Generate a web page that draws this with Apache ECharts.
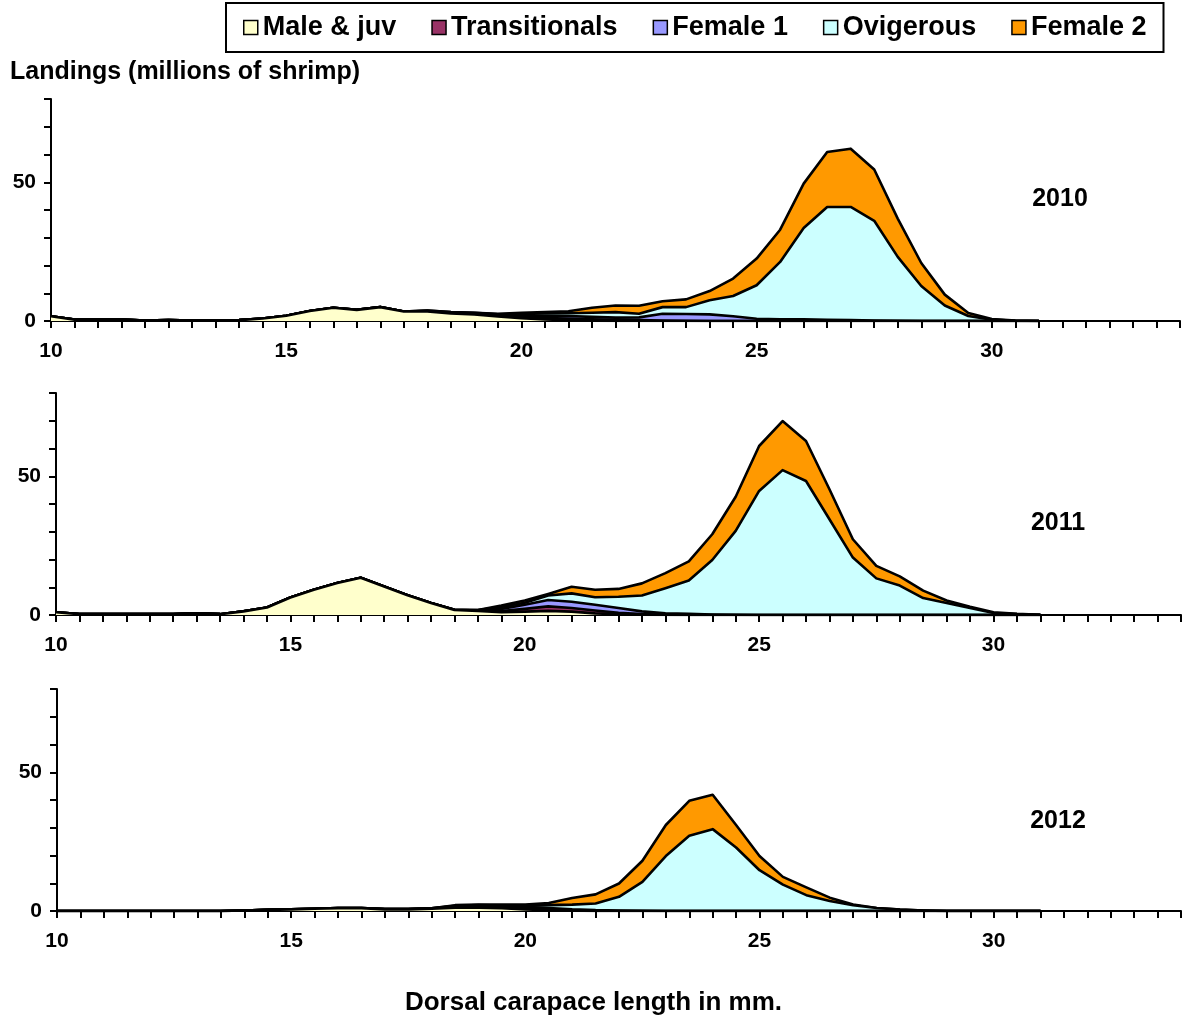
<!DOCTYPE html>
<html>
<head>
<meta charset="utf-8">
<title>Shrimp landings by carapace length</title>
<script src="https://cdn.jsdelivr.net/npm/echarts@6/dist/echarts.min.js"></script>
<style>
  html, body { margin: 0; padding: 0; background: #fff; }
  #chart { width: 1187px; height: 1021px; }
</style>
</head>
<body>
<div id="chart"></div>
<script>
// Dorsal carapace length classes (mm)
const lengths = [10, 10.5, 11, 11.5, 12, 12.5, 13, 13.5, 14, 14.5,
                 15, 15.5, 16, 16.5, 17, 17.5, 18, 18.5, 19, 19.5,
                 20, 20.5, 21, 21.5, 22, 22.5, 23, 23.5, 24, 24.5,
                 25, 25.5, 26, 26.5, 27, 27.5, 28, 28.5, 29, 29.5,
                 30, 30.5, 31];

const stages = ['Male & juv', 'Transitionals', 'Female 1', 'Ovigerous', 'Female 2'];
const stageColors = ['#FFFFCC', '#993366', '#9999FF', '#CCFFFF', '#FF9900'];
const years = ['2010', '2011', '2012'];

// Landings (millions of shrimp), 2010
const male2010 = [1.7,0.5,0.5,0.5,0.2,0.3,0.2,0.2,0.3,0.9, 1.9,3.6,4.8,4.0,5.0,3.4,3.4,2.7,2.4,1.6, 1.0,0.6,0.3,0.1,0,0,0,0,0,0, 0,0,0,0,0,0,0,0,0,0, 0,0,0];
const trans2010 = [0,0,0,0,0,0,0,0,0,0, 0,0,0,0,0,0,0.1,0.1,0.1,0.1, 0.3,0.5,0.6,0.5,0.4,0.3,0.2,0.1,0,0, 0,0,0,0,0,0,0,0,0,0, 0,0,0];
const fem1_2010 = [0,0,0,0,0,0,0,0,0,0, 0,0,0,0,0,0,0.1,0.2,0.2,0.3, 0.6,0.8,0.9,0.9,0.8,1.0,2.4,2.4,2.4,1.7, 0.8,0.6,0.6,0.4,0.3,0.2,0.1,0,0,0, 0,0,0];
const ovig2010 = [0,0,0,0,0,0,0,0,0,0, 0,0,0,0,0,0,0.2,0.2,0.3,0.4, 0.6,0.8,1.0,1.5,2.0,1.3,2.4,2.5,5.1,7.3, 12.1,20.7,32.9,40.7,40.8,35.9,23.0,12.6,5.6,1.8, 0.5,0.1,0];
const fem2_2010 = [0,0,0,0,0,0,0,0,0,0, 0,0,0,0,0,0,0,0,0,0.2, 0.5,0.5,0.7,1.8,2.4,2.9,2.1,2.8,3.3,6.3, 9.6,11.6,16.0,19.8,21.0,18.5,13.8,8.3,3.9,1.1, 0.2,0.1,0];

// Landings (millions of shrimp), 2011
const male2011 = [1.0,0.3,0.3,0.3,0.3,0.3,0.6,0.3,1.3,2.7, 6.3,9.1,11.5,13.4,10.3,7.1,4.3,1.8,1.5,1.0, 1.2,1.5,1.2,0.6,0.3,0.1,0,0,0,0, 0,0,0,0,0,0,0,0,0,0, 0,0,0];
const trans2011 = [0,0,0,0,0,0,0,0,0,0, 0,0,0,0,0,0,0,0.1,0.1,0.4, 1.0,1.6,1.3,1.0,0.5,0.2,0.1,0,0,0, 0,0,0,0,0,0,0,0,0,0, 0,0,0];
const fem1_2011 = [0,0,0,0,0,0,0,0,0,0, 0,0,0,0,0,0,0,0,0.1,0.8, 1.5,2.3,2.3,2.1,1.7,1.0,0.5,0.4,0.2,0.1, 0,0,0,0,0,0,0,0,0,0, 0,0,0];
const ovig2011 = [0,0,0,0,0,0,0,0,0,0, 0,0,0,0,0,0,0,0,0.1,0.7, 0.7,1.6,3.0,2.7,4.1,5.7,9.0,12.0,19.6,30.2, 44.7,52.2,48.3,34.5,20.7,13.2,10.6,6.1,4.3,2.5, 0.7,0.3,0.1];
const fem2_2011 = [0,0,0,0,0,0,0,0,0,0, 0,0,0,0,0,0,0,0,0,0.5, 0.8,0.6,2.4,2.7,2.8,4.4,5.5,6.9,9.3,12.3, 16.2,17.7,14.4,10.8,6.6,4.5,3.3,2.7,0.9,0.5, 0.3,0.1,0];

// Landings (millions of shrimp), 2012
const male2012 = [0,0,0,0,0,0,0,0,0.2,0.4, 0.6,0.8,1.0,1.0,0.6,0.6,0.8,1.2,1.2,1.0, 0.6,0.3,0.1,0,0,0,0,0,0,0, 0,0,0,0,0,0,0,0,0,0, 0,0,0];
const trans2012 = [0,0,0,0,0,0,0,0,0,0, 0,0,0.1,0.1,0.1,0.1,0.1,0.2,0.3,0.3, 0.3,0.2,0.1,0,0,0,0,0,0,0, 0,0,0,0,0,0,0,0,0,0, 0,0,0];
const fem1_2012 = [0,0,0,0,0,0,0,0,0,0, 0,0,0,0,0,0,0.1,0.3,0.4,0.4, 0.5,0.6,0.4,0.3,0.2,0.1,0,0,0,0, 0,0,0,0,0,0,0,0,0,0, 0,0,0];
const ovig2012 = [0,0,0,0,0,0,0,0,0,0, 0,0,0,0,0,0,0,0.2,0.2,0.3, 0.4,1.0,1.7,2.4,4.9,10.4,19.8,27.1,29.5,22.9, 14.7,9.5,5.7,3.6,2.1,1.1,0.5,0.2,0,0, 0,0,0];
const fem2_2012 = [0,0,0,0,0,0,0,0,0,0, 0,0,0,0,0,0,0,0.2,0.2,0.3, 0.5,0.8,2.4,3.3,4.8,7.6,11.2,12.6,12.4,8.1, 5.1,2.8,2.8,1.2,0.2,0,0,0,0,0, 0,0,0];

const yearData = [
  [male2010, trans2010, fem1_2010, ovig2010, fem2_2010],
  [male2011, trans2011, fem1_2011, ovig2011, fem2_2011],
  [male2012, trans2012, fem1_2012, ovig2012, fem2_2012]
];

// Axis ticks: x every 0.5 mm (labels every 5), y every 10 (labels at 0 and 50)
const xLabelValues = [10, 15, 20, 25, 30];
const yLabelValues = [0, 50];

const FONT = '"Liberation Sans", Arial, sans-serif';

// Panel frames (pixels)
const panels = [
  { left: 51, top: 99, width: 1129, height: 222 },
  { left: 56, top: 393, width: 1125, height: 222 },
  { left: 57, top: 689, width: 1124, height: 222 }
];
const yearLabelPos = [[1060, 199], [1058, 523], [1058, 821]];

const axisLine = { show: true, onZero: false, lineStyle: { color: '#000', width: 2 } };
const axisTick = { show: true, inside: false, length: 7, lineStyle: { color: '#000', width: 2 } };

const xAxes = panels.map((p, i) => ({
  type: 'value', gridIndex: i, min: 10, max: 34, interval: 0.5,
  axisLine, axisTick,
  splitLine: { show: false },
  axisLabel: {
    show: true, margin: 20, color: '#000', fontFamily: FONT, fontWeight: 'bold', fontSize: 21,
    formatter: v => (xLabelValues.indexOf(v) >= 0 ? String(v) : '')
  }
}));

const yAxes = panels.map((p, i) => ({
  type: 'value', gridIndex: i, min: 0, max: 80, interval: 10,
  axisLine, axisTick,
  splitLine: { show: false },
  axisLabel: {
    show: true, margin: 15, color: '#000', fontFamily: FONT, fontWeight: 'bold', fontSize: 21,
    formatter: v => (yLabelValues.indexOf(v) >= 0 ? String(v) : '')
  }
}));

// Each stage is drawn at its cumulative height (stacked areas, Male & juv at the bottom).
// Areas fill down to zero; lower stages sit on top so each band shows its own colour.
const series = [];
yearData.forEach((groups, yi) => {
  const running = lengths.map(() => 0);
  const tops = groups.map(vals => {
    vals.forEach((v, k) => { running[k] = Math.round((running[k] + v) * 100) / 100; });
    return running.slice();
  });
  tops.forEach((cum, si) => {
    series.push({
      name: stages[si],
      type: 'line',
      xAxisIndex: yi,
      yAxisIndex: yi,
      symbol: 'none',
      smooth: false,
      silent: true,
      z: 10 - si,
      lineStyle: { color: '#000', width: 2.6, join: 'round' },
      itemStyle: { color: stageColors[si] },
      areaStyle: { color: stageColors[si], opacity: 1, origin: 'start' },
      data: lengths.map((x, k) => [x, cum[k]])
    });
  });
});

const graphic = [
  {
    type: 'text', left: 10, top: 60,
    style: { text: 'Landings (millions of shrimp)', font: 'bold 25px ' + FONT, fill: '#000' }
  },
  {
    type: 'text', left: 'center', top: 990,
    style: { text: 'Dorsal carapace length in mm.', font: 'bold 26px ' + FONT, fill: '#000' }
  }
].concat(yearLabelPos.map((pos, i) => ({
  type: 'text', x: pos[0], y: pos[1],
  style: { text: years[i], font: 'bold 25px ' + FONT, fill: '#000', align: 'center', verticalAlign: 'middle' }
})));

const option = {
  animation: false,
  backgroundColor: '#fff',
  legend: {
    left: 226, top: 3,
    orient: 'horizontal',
    icon: 'rect',
    itemWidth: 14, itemHeight: 14, itemGap: 35,
    padding: [10, 17, 10, 17],
    borderColor: '#000', borderWidth: 2,
    selectedMode: false,
    itemStyle: { borderColor: '#000', borderWidth: 1.5 },
    textStyle: { color: '#000', fontFamily: FONT, fontWeight: 'bold', fontSize: 27, lineHeight: 29 },
    data: stages.map((s, i) => ({ name: s, itemStyle: { color: stageColors[i], borderColor: '#000', borderWidth: 1.5 } }))
  },
  grid: panels,
  xAxis: xAxes,
  yAxis: yAxes,
  series,
  graphic
};

const chart = echarts.init(document.getElementById('chart'), null, { renderer: 'canvas' });
chart.setOption(option);
</script>
</body>
</html>
